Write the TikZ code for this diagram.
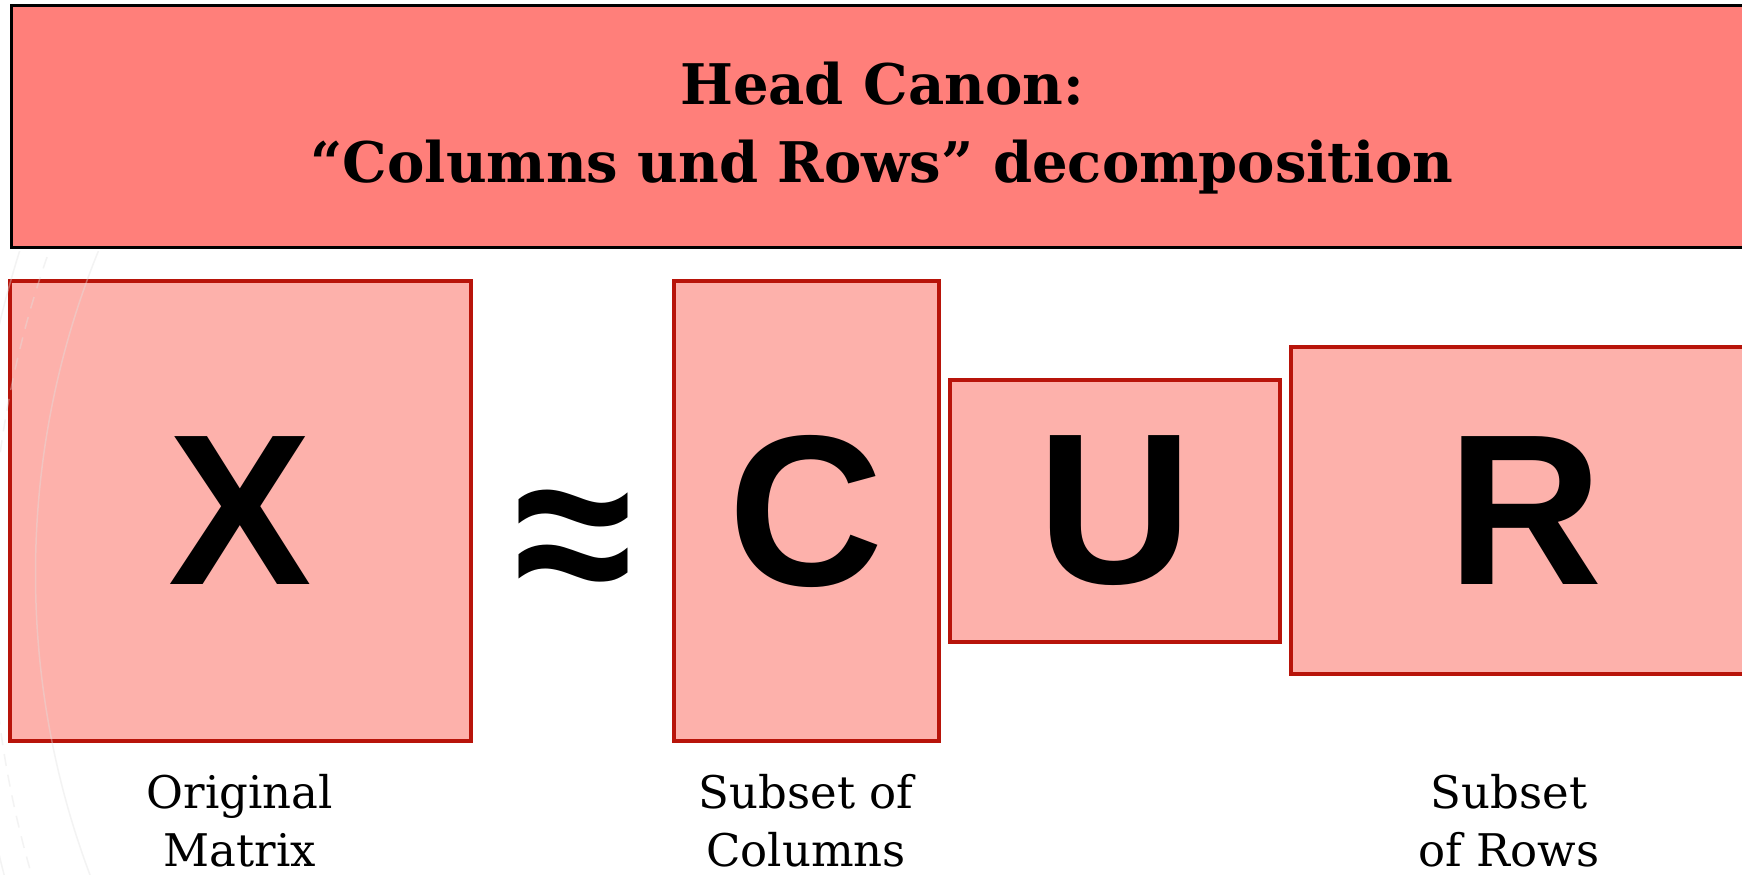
\documentclass[tikz,border=0pt]{standalone}
\usepackage{fontspec}
\setmainfont{DejaVu Serif}
\newfontfamily\letterfont{Liberation Sans}
\definecolor{titlefill}{RGB}{255,127,122}
\definecolor{boxfill}{RGB}{253,177,171}
\definecolor{boxline}{RGB}{184,20,10}
\definecolor{arcgray}{RGB}{225,225,225}
\begin{document}
\begin{tikzpicture}[x=1pt,y=-1pt,
  mbox/.style={draw=boxline, line width=3.2pt, fill=boxfill, inner sep=0pt,
    font=\letterfont\bfseries\fontsize{215}{215}\selectfont},
  lbl/.style={align=center, inner sep=0pt, font=\fontsize{45}{58}\selectfont},
  bgarc/.style={draw=arcgray, line width=1.5pt, opacity=0.4}]
\useasboundingbox (0,0) rectangle (1742,875);
\fill[white] (0,0) rectangle (1742,875);
% title
\node[draw=black, line width=3pt, fill=titlefill, minimum width=1780pt,
  minimum height=242pt, anchor=north west, inner sep=0pt] (title) at (10,4) {};
\node[align=center, inner sep=0pt, font=\bfseries\fontsize{56}{78}\selectfont]
  (titletext) at (882,128) {Head Canon:\\“Columns und Rows” decomposition};
% matrices
\node[mbox, minimum width=461pt, minimum height=460pt] (X) at (240.5,511) {X};
\node[mbox, minimum width=265pt, minimum height=460pt] (C) at (806.5,511) {C};
\node[mbox, minimum width=330pt, minimum height=262pt] (U) at (1115,511) {U};
\node[mbox, minimum width=469pt, minimum height=327pt] (R) at (1525.5,510.5) {R};
\node[inner sep=0pt, font=\letterfont\bfseries\fontsize{215}{215}\selectfont]
  (approx) at (573,552) {\scalebox{1}[1.09]{≈}};
% faint background arcs (left edge only)
\begin{scope}
\clip (0,251) rectangle (300,875);
\draw[bgarc] (891.5,573.7) circle[radius=856];
\draw[bgarc, dash pattern=on 12pt off 9pt] (1003,590) circle[radius=1012];
\draw[bgarc] (1100,590) circle[radius=1132];
\end{scope}
% labels
\node[lbl] (lx) at (240,821) {Original\\Matrix};
\node[lbl] (lc) at (806,821) {Subset of\\Columns};
\node[lbl] (lr) at (1509,821) {Subset\\of Rows};
\end{tikzpicture}
\end{document}
